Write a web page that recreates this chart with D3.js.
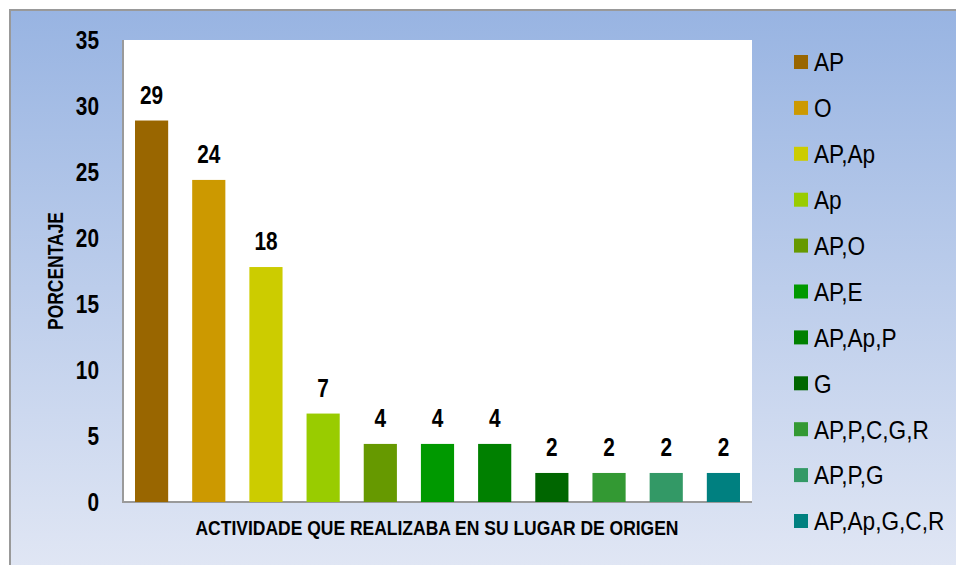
<!DOCTYPE html>
<html>
<head>
<meta charset="utf-8">
<script src="https://cdn.jsdelivr.net/npm/d3@7"></script>
<style>
  body { margin: 0; background: #fff; }
  text { font-family: "Liberation Sans Narrow", "Arial Narrow", "Liberation Sans", Arial, sans-serif; }
</style>
</head>
<body>
<div id="chart-area"></div>
<script>
// bar chart: actividad en lugar de origen

const WIDTH = 956;
const HEIGHT = 565;

const categories = ["AP", "O", "AP,Ap", "Ap", "AP,O", "AP,E", "AP,Ap,P", "G", "AP,P,C,G,R", "AP,P,G", "AP,Ap,G,C,R"];
const values = [28.9, 24.4, 17.8, 6.7, 4.4, 4.4, 4.4, 2.2, 2.2, 2.2, 2.2];
const colors = ["#996600", "#cc9900", "#cccc00", "#99cc00", "#669900", "#009900", "#008000", "#006600", "#339933", "#339966", "#008080"];
const yTicks = [0, 5, 10, 15, 20, 25, 30, 35];

const plot = { left: 123, right: 752, top: 40, bottom: 502 };
const SQUEEZE = 0.8;   // no narrow font here, so squeeze the text horizontally
const LEGEND_SQUEEZE = 0.87;

let svg = d3.select("#chart-area").append("svg")
    .attr("width", WIDTH)
    .attr("height", HEIGHT);

// background gradient
let grad = svg.append("defs").append("linearGradient")
    .attr("id", "bg")
    .attr("x1", 0).attr("y1", 0).attr("x2", 0).attr("y2", 1);
grad.append("stop").attr("offset", "0%").attr("stop-color", "#98b4e2");
grad.append("stop").attr("offset", "100%").attr("stop-color", "#e0e6f4");

svg.append("rect")
    .attr("x", 10).attr("y", 10)
    .attr("width", WIDTH - 9).attr("height", HEIGHT - 9)
    .attr("fill", "url(#bg)")
    .attr("stroke", "#999")
    .attr("stroke-width", 2);

// plot area
svg.append("rect")
    .attr("x", plot.left).attr("y", plot.top)
    .attr("width", plot.right - plot.left)
    .attr("height", plot.bottom - plot.top)
    .attr("fill", "#fff");

let x = d3.scaleBand()
    .domain(categories)
    .range([plot.left, plot.right])
    .paddingInner(0.42)
    .paddingOuter(0.21);

let y = d3.scaleLinear()
    .domain([0, 35])
    .range([plot.bottom, plot.top]);

// axis lines
svg.append("line")
    .attr("x1", plot.left).attr("x2", plot.left)
    .attr("y1", plot.top).attr("y2", plot.bottom)
    .attr("stroke", "#9a9a9a").attr("stroke-width", 2);
svg.append("line")
    .attr("x1", plot.left - 1).attr("x2", plot.right)
    .attr("y1", plot.bottom).attr("y2", plot.bottom)
    .attr("stroke", "#9a9a9a").attr("stroke-width", 2);

// y tick labels
svg.selectAll(".ytick")
    .data(yTicks)
    .enter().append("text")
    .attr("class", "ytick")
    .attr("transform", d => `translate(99, ${y(d)}) scale(${SQUEEZE}, 1)`)
    .attr("dy", "0.36em")
    .attr("text-anchor", "end")
    .attr("font-size", 26)
    .attr("font-weight", "bold")
    .text(d => d);

// bars
let data = categories.map((c, i) => ({ cat: c, val: values[i], color: colors[i] }));

svg.selectAll(".bar")
    .data(data)
    .enter().append("rect")
    .attr("class", "bar")
    .attr("x", d => x(d.cat))
    .attr("y", d => y(d.val))
    .attr("width", x.bandwidth())
    .attr("height", d => y(0) - y(d.val))
    .attr("fill", d => d.color);

svg.selectAll(".bar-label")
    .data(data)
    .enter().append("text")
    .attr("class", "bar-label")
    .attr("transform", d => `translate(${x(d.cat) + x.bandwidth() / 2}, ${y(d.val) - 17}) scale(${SQUEEZE}, 1)`)
    .attr("text-anchor", "middle")
    .attr("font-size", 26)
    .attr("font-weight", "bold")
    .text(d => Math.round(d.val));

// axis titles
svg.append("text")
    .attr("x", 437)
    .attr("y", 535)
    .attr("text-anchor", "middle")
    .attr("font-size", 21)
    .attr("font-weight", "bold")
    .attr("textLength", 483)
    .attr("lengthAdjust", "spacingAndGlyphs")
    .text("ACTIVIDADE QUE REALIZABA EN SU LUGAR DE ORIGEN");

svg.append("text")
    .attr("transform", "translate(63,271) rotate(-90)")
    .attr("text-anchor", "middle")
    .attr("font-size", 22)
    .attr("font-weight", "bold")
    .attr("textLength", 118)
    .attr("lengthAdjust", "spacingAndGlyphs")
    .text("PORCENTAJE");

// legend
let legend = svg.selectAll(".legend")
    .data(data)
    .enter().append("g")
    .attr("class", "legend")
    .attr("transform", (d, i) => `translate(794, ${62 + i * 45.9})`);

legend.append("rect")
    .attr("x", 0).attr("y", -7)
    .attr("width", 14).attr("height", 14)
    .attr("fill", d => d.color);

legend.append("text")
    .attr("transform", `translate(20, 0) scale(${LEGEND_SQUEEZE}, 1)`)
    .attr("dy", "0.36em")
    .attr("font-size", 26)
    .text(d => d.cat);
</script>
</body>
</html>
